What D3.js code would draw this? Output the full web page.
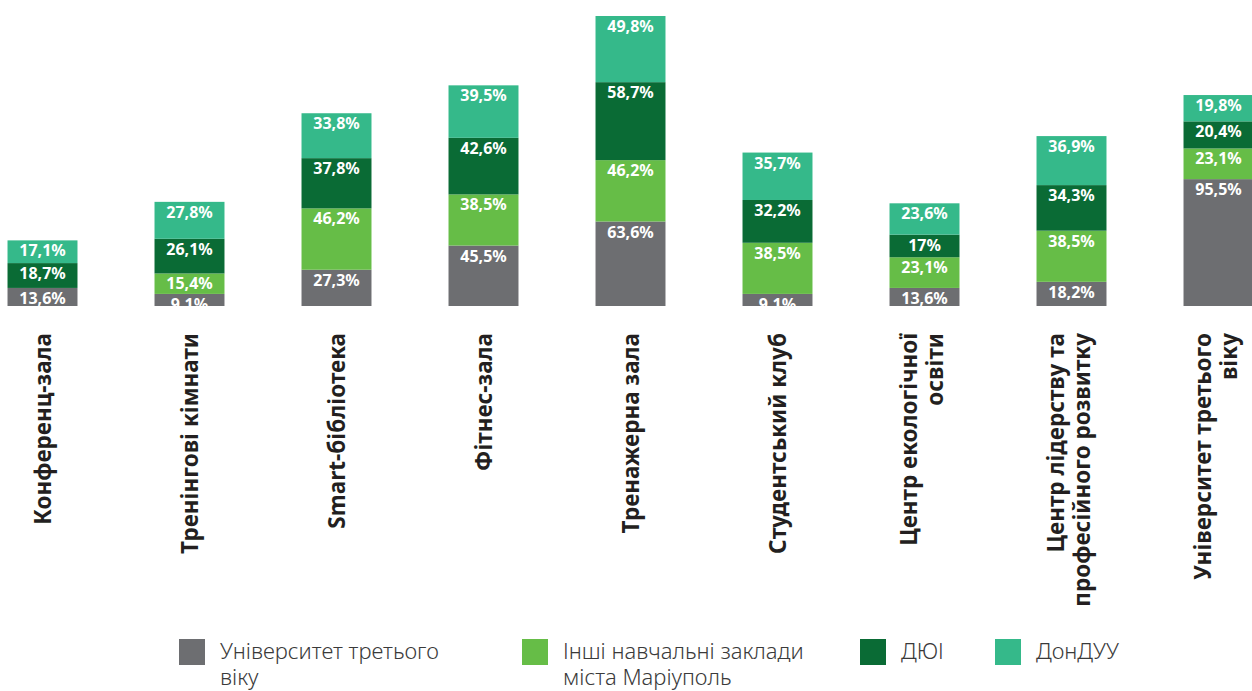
<!DOCTYPE html>
<meta charset="utf-8">
<style>
  body { margin: 0; background: #fff; }
  .seg-label { font-family: "Noto Sans", sans-serif; font-size: 16px; font-weight: bold; fill: #fff; }
  .cat-label { font-family: "Noto Sans", sans-serif; font-size: 22.5px; font-weight: bold; fill: #231f20; }
  .legend-text { font-family: "Noto Sans", sans-serif; font-size: 22px; font-weight: 300; fill: #3a3a3a; }
</style>
<body>
<script src="https://cdn.jsdelivr.net/npm/d3@7"></script>
<script>

var width = 1252
var height = 691

// categories, each label split into lines
var categories = ["Конференц-зала", "Тренінгові кімнати", "Smart-бібліотека", "Фітнес-зала",
  "Тренажерна зала", "Студентський клуб", "Центр екологічної освіти",
  "Центр лідерству та професійного розвитку", "Університет третього віку"]
var categoryLines = [["Конференц-зала"], ["Тренінгові кімнати"], ["Smart-бібліотека"], ["Фітнес-зала"],
  ["Тренажерна зала"], ["Студентський клуб"], ["Центр екологічної", "освіти"],
  ["Центр лідерству та", "професійного розвитку"], ["Університет третього", "віку"]]

// series, bottom to top
var seriesNames = ["Університет третього віку", "Інші навчальні заклади міста Маріуполь", "ДЮІ", "ДонДУУ"]
var legendLines = [["Університет третього", "віку"], ["Інші навчальні заклади", "міста Маріуполь"], ["ДЮІ"], ["ДонДУУ"]]
var colors = ["#6d6e71", "#66bd47", "#0a6b35", "#35b98a"]

var univ3 = [13.6, 9.1, 27.3, 45.5, 63.6, 9.1, 13.6, 18.2, 95.5]
var inshi = [0, 15.4, 46.2, 38.5, 46.2, 38.5, 23.1, 38.5, 23.1]
var dui = [18.7, 26.1, 37.8, 42.6, 58.7, 32.2, 17, 34.3, 20.4]
var donduu = [17.1, 27.8, 33.8, 39.5, 49.8, 35.7, 23.6, 36.9, 19.8]

var seriesValues = [univ3, inshi, dui, donduu]

var table = categories.map(function (c, i) {
  var row = { cat: c }
  seriesNames.forEach(function (s, j) { row[s] = seriesValues[j][i] })
  return row
})

var svg = d3.select("body").append("svg")
  .attr("width", width)
  .attr("height", height)

var baseY = 306

var x = d3.scaleBand()
  .domain(categories)
  .range([-31, 1292])
  .paddingInner(0.524)
  .paddingOuter(0.262)

var y = d3.scaleLinear()
  .domain([0, 218.3])
  .range([baseY, 16])

var stacked = d3.stack().keys(seriesNames)(table)

svg.append("clipPath").attr("id", "plotclip")
  .append("rect").attr("x", 0).attr("y", 0).attr("width", width).attr("height", baseY)

var layers = svg.selectAll("g.layer")
  .data(stacked)
  .enter().append("g")
  .attr("class", "layer")
  .attr("fill", function (d, i) { return colors[i] })

layers.selectAll("rect")
  .data(function (d) { return d })
  .enter().append("rect")
  .attr("x", function (d) { return x(d.data.cat) })
  .attr("y", function (d) { return y(d[1]) })
  .attr("width", x.bandwidth())
  .attr("height", function (d) { return y(d[0]) - y(d[1]) })

function fmt(v) {
  return (v % 1 === 0 ? String(v) : v.toFixed(1).replace(".", ",")) + "%"
}

var labels = svg.append("g").attr("clip-path", "url(#plotclip)")
stacked.forEach(function (layer) {
  labels.selectAll(null)
    .data(layer.filter(function (d) { return d[1] - d[0] > 0 }))
    .enter().append("text")
    .attr("class", "seg-label")
    .attr("text-anchor", "middle")
    .attr("x", function (d) { return x(d.data.cat) + x.bandwidth() / 2 })
    .attr("y", function (d) { return y(d[1]) + 16 })
    .text(function (d) { return fmt(d[1] - d[0]) })
})

// rotated category labels
var lineH = 26
categories.forEach(function (c, i) {
  var cx = x(c) + x.bandwidth() / 2
  var lines = categoryLines[i]
  var off = lines.length > 1 ? 5 : 8
  lines.forEach(function (ln, k) {
    var bx = cx + (k - (lines.length - 1) / 2) * lineH + off
    svg.append("text")
      .attr("class", "cat-label")
      .attr("text-anchor", "end")
      .attr("transform", "translate(" + bx + "," + 333 + ") rotate(-90)")
      .text(ln)
  })
})

// legend
var legendX = [179, 522, 860, 995]
var legend = svg.selectAll("g.legend")
  .data(seriesNames)
  .enter().append("g")
  .attr("class", "legend")
  .attr("transform", function (d, i) { return "translate(" + legendX[i] + ",639)" })

legend.append("rect")
  .attr("width", 26).attr("height", 26)
  .attr("fill", function (d, i) { return colors[i] })

legend.each(function (d, i) {
  var t = d3.select(this).append("text")
    .attr("class", "legend-text")
    .attr("y", 20)
  legendLines[i].forEach(function (ln, k) {
    t.append("tspan")
      .attr("x", 41)
      .attr("dy", k === 0 ? 0 : 26)
      .text(ln)
  })
})

</script>
</body>
